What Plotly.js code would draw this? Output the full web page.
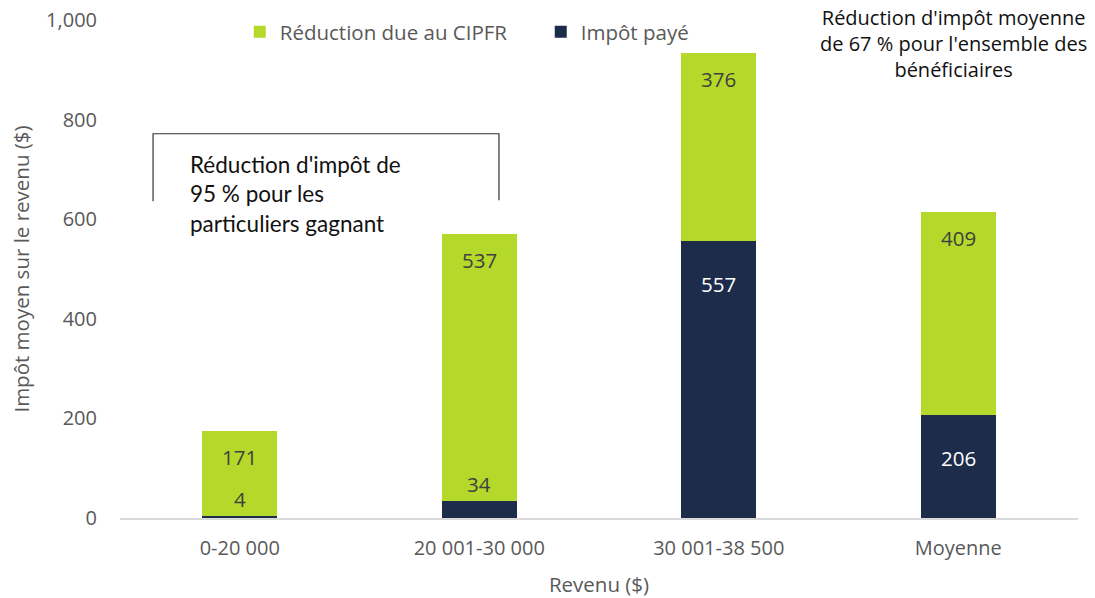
<!DOCTYPE html>
<html>
<head>
<meta charset="utf-8">
<script src="https://cdn.plot.ly/plotly-3.0.1.min.js"></script>
<style>html,body{margin:0;padding:0;background:#fff;}#chart{width:1095px;height:598px;}</style>
</head>
<body>
<div id="chart"></div>
<script>
const categories = ["0-20 000", "20 001-30 000", "30 001-38 500", "Moyenne"];
const impotPaye = [4, 34, 557, 206];
const reductionCIPFR = [171, 537, 376, 409];
const seriesNames = ["Impôt payé", "Réduction due au CIPFR"];
const yTicks = [0, 200, 400, 600, 800, 1000];
const yTickLabels = ["0", "200", "400", "600", "800", "1,000"];

const GREEN = "#B4D92A";
const NAVY = "#1D2C4B";
const GRAY = "#595959";
const FONT = "Open Sans, sans-serif";

const traces = [
  {type: "bar", name: seriesNames[0], x: categories, y: impotPaye,
   marker: {color: NAVY}, legendrank: 2, hoverinfo: "skip"},
  {type: "bar", name: seriesNames[1], x: categories, y: reductionCIPFR,
   marker: {color: GREEN}, legendrank: 1, hoverinfo: "skip"}
];

const annotations = [];
categories.forEach((c, i) => {
  const total = impotPaye[i] + reductionCIPFR[i];
  annotations.push({x: c, y: total, xref: "x", yref: "y", text: String(reductionCIPFR[i]),
    showarrow: false, yanchor: "middle", yshift: -26, font: {family: FONT, size: 20.5, color: "#404040"}});
  const small = impotPaye[i] < 60;
  annotations.push({x: c, y: impotPaye[i], xref: "x", yref: "y", text: String(impotPaye[i]),
    showarrow: false, yanchor: "middle", yshift: small ? 17 : -43,
    font: {family: FONT, size: 20.5, color: small ? "#404040" : "#ffffff"}});
});
annotations.push({xref: "paper", yref: "paper", x: 0.87, y: 1.037, xanchor: "center", yanchor: "top",
  align: "center", showarrow: false,
  text: "Réduction d'impôt moyenne<br>de 67 % pour l'ensemble des<br>bénéficiaires",
  font: {family: FONT, size: 20, color: "#111"}});
annotations.push({xref: "paper", yref: "paper", x: 0.071, y: 0.74, xanchor: "left", yanchor: "top",
  align: "left", showarrow: false,
  text: "Réduction d'impôt de<br>95 % pour les<br>particuliers gagnant",
  font: {family: "Lato, sans-serif", size: 22.5, color: "#111"}});

const shapes = [
  {type: "path", xref: "paper", yref: "paper",
   path: "M 0.0345 0.636 L 0.0345 0.7716 L 0.3956 0.7716 L 0.3956 0.638",
   line: {color: "#333", width: 1.2}}
];

const layout = {
  width: 1095, height: 598,
  margin: {l: 120, r: 17, t: 20, b: 80},
  paper_bgcolor: "#fff", plot_bgcolor: "#fff",
  barmode: "stack", bargap: 0.685,
  font: {family: FONT, color: GRAY, size: 20},
  showlegend: true,
  legend: {orientation: "h", x: 0.125, xanchor: "left", y: 0.976, yanchor: "middle",
    traceorder: "normal", font: {family: FONT, size: 20.5, color: GRAY},
    entrywidth: 256, entrywidthmode: "pixels", itemwidth: 30, bgcolor: "rgba(0,0,0,0)"},
  xaxis: {type: "category", showgrid: false, showline: true, linecolor: "#D9D9D9", linewidth: 1.5,
    ticks: "", tickfont: {family: FONT, size: 20, color: GRAY}, ticklabelstandoff: 11,
    title: {text: "Revenu ($)", font: {family: FONT, size: 20.5, color: GRAY}, standoff: 20}},
  yaxis: {range: [0, 1000], tickvals: yTicks, ticktext: yTickLabels, showgrid: false, zeroline: false,
    showline: false, ticks: "", tickfont: {family: FONT, size: 20, color: GRAY}, ticklabelstandoff: 22,
    title: {text: "Impôt moyen sur le revenu ($)", font: {family: FONT, size: 20.5, color: GRAY}, standoff: 10}},
  annotations: annotations,
  shapes: shapes
};

Plotly.newPlot("chart", traces, layout, {staticPlot: true, displayModeBar: false});
</script>
</body>
</html>
